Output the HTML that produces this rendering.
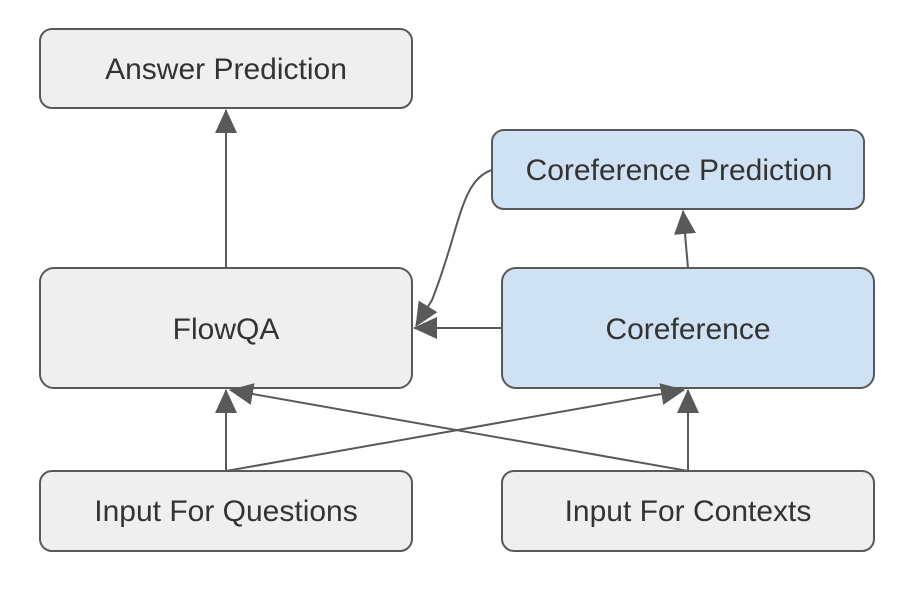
<!DOCTYPE html><html><head><style>body{margin:0;background:#fff}</style></head><body>
<svg width="908" height="594" xmlns="http://www.w3.org/2000/svg" font-family="Liberation Sans, Arial, sans-serif">
<defs>
<marker id="b" markerWidth="24" markerHeight="22" refX="23" refY="11" orient="auto" markerUnits="userSpaceOnUse"><path d="M0,0 L24,11 L0,22 z" fill="#595959"/></marker></defs>
<g stroke="#595959" stroke-width="2" fill="#efefef">
<rect x="40" y="29" width="372" height="79" rx="12"/>
<rect x="492" y="130" width="372" height="79" rx="12" fill="#cfe2f3"/>
<rect x="40" y="268" width="372" height="120" rx="14"/>
<rect x="502" y="268" width="372" height="120" rx="14" fill="#cfe2f3"/>
<rect x="40" y="471" width="372" height="80" rx="12"/>
<rect x="502" y="471" width="372" height="80" rx="12"/>
</g>
<g stroke="#595959" stroke-width="2" fill="none" marker-end="url(#b)">
<line x1="226" y1="268" x2="226" y2="110"/>
<line x1="688" y1="268" x2="683" y2="211"/>
<line x1="502" y1="328" x2="414" y2="328"/>
<path d="M492,170 C460,180 460,230 432,300 L416,326"/>
<line x1="226" y1="471" x2="226" y2="390"/>
<line x1="688" y1="471" x2="688" y2="390"/>
<line x1="226" y1="471" x2="684" y2="390"/>
<line x1="688" y1="471" x2="230" y2="390"/>
</g>
<g fill="#333" font-size="30" text-anchor="middle">
<text x="226" y="79">Answer Prediction</text>
<text x="679" y="180">Coreference Prediction</text>
<text x="226" y="339">FlowQA</text>
<text x="688" y="339">Coreference</text>
<text x="226" y="521">Input For Questions</text>
<text x="688" y="521">Input For Contexts</text>
</g>
</svg></body></html>
